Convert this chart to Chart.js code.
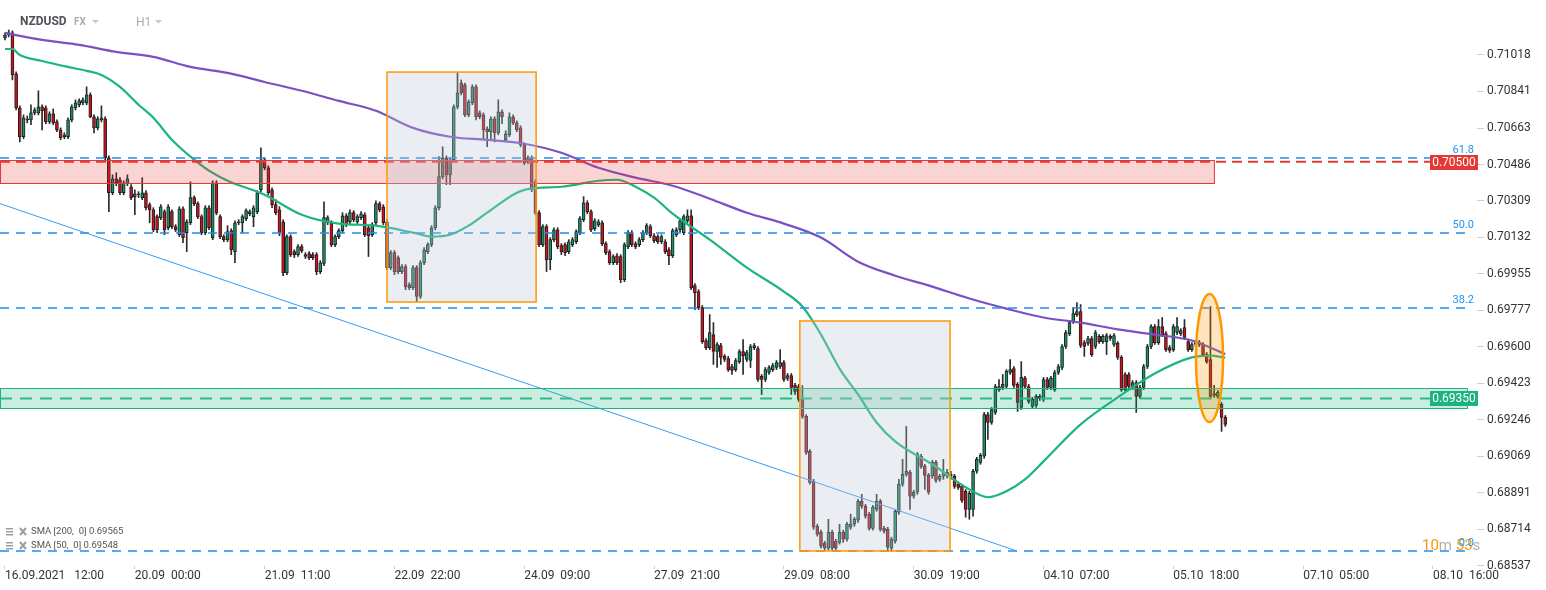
<!DOCTYPE html>
<html>
<head>
<meta charset="utf-8">
<script src="https://cdn.jsdelivr.net/npm/chart.js@4.4.0/dist/chart.umd.min.js"></script>
<style>
  html, body { margin: 0; padding: 0; background: #fff; }
  canvas { display: block; }
</style>
</head>
<body>
<canvas id="chart" width="1546" height="590"></canvas>
<script>
// NZDUSD H1 candles, prices in 1e-5 units (71101 = 0.71101)
const opens = [
  71101,71115,71125,70926,70761,70621,70708,70703,70737,70737,
  70766,70761,70693,70732,70693,70654,70621,70621,70703,70761,
  70776,70785,70785,70824,70718,70664,70703,70708,70519,70349,
  70417,70412,70349,70393,70378,70330,70339,70325,70349,70291,
  70266,70233,70228,70257,70179,70257,70184,70145,70271,70155,
  70203,70325,70296,70233,70155,70276,70131,70397,70233,70136,
  70121,70165,70063,70203,70203,70223,70247,70233,70257,70363,
  70509,70470,70363,70291,70266,70208,69961,70136,70063,70048,
  70087,70048,70053,70048,70048,69966,70005,70203,70203,70097,
  70136,70165,70237,70208,70252,70208,70228,70242,70179,70145,
  70203,70296,70281,70208,69985,70058,70034,69966,69990,69903,
  69888,69985,69845,70009,70063,70097,70179,70276,70427,70519,
  70436,70509,70766,70882,70873,70727,70785,70863,70737,70727,
  70659,70645,70708,70640,70742,70606,70630,70718,70688,70664,
  70582,70519,70519,70402,70252,70097,70184,70024,70121,70169,
  70092,70097,70063,70097,70111,70155,70218,70300,70257,70174,
  70194,70203,70102,70063,70009,70043,70039,69927,70087,70155,
  70102,70097,70121,70155,70184,70140,70136,70111,70111,70072,
  70043,70145,70169,70155,70213,70237,69898,69869,69791,69631,
  69597,69660,69578,69607,69554,69544,69505,69490,69529,69578,
  69539,69534,69597,69592,69457,69442,69476,69490,69500,69505,
  69524,69447,69461,69413,69408,69345,69263,69093,68947,68729,
  68700,68647,68622,68700,68656,68651,68700,68666,68724,68739,
  68758,68850,68826,68787,68719,68811,68850,68719,68714,68622,
  68656,68797,68933,68981,68991,68875,68894,69069,69020,68976,
  68972,69039,68957,68972,68972,68972,68972,68933,68923,68899,
  68811,68811,68996,69039,69069,69272,69233,69282,69393,69403,
  69408,69476,69495,69418,69306,69447,69408,69311,69316,69350,
  69345,69442,69403,69393,69476,69500,69602,69665,69723,69757,
  69772,69621,69617,69641,69602,69651,69626,69626,69651,69612,
  69617,69549,69466,69466,69403,69427,69360,69403,69505,69602,
  69699,69621,69699,69665,69597,69587,69670,69665,69694,69626,
  69587,69621,69612,69612,69563,69539,69374,69360,69321,69258
];
const highs = [
  71125,71139,71135,70936,70771,70727,70722,70776,70761,70844,
  70776,70771,70742,70756,70703,70664,70640,70713,70776,70800,
  70805,70810,70863,70834,70727,70718,70771,70718,70528,70436,
  70446,70422,70407,70436,70388,70363,70354,70422,70359,70300,
  70276,70242,70291,70266,70291,70266,70194,70281,70281,70218,
  70402,70334,70305,70242,70286,70286,70407,70407,70242,70145,
  70189,70174,70213,70218,70242,70271,70266,70286,70359,70567,
  70519,70480,70373,70315,70281,70218,70145,70145,70072,70097,
  70097,70058,70063,70058,70058,70019,70305,70237,70213,70145,
  70174,70252,70247,70266,70262,70242,70257,70252,70189,70203,
  70310,70305,70291,70218,70068,70068,70043,70000,70000,69912,
  69995,69995,70019,70082,70106,70189,70286,70524,70572,70528,
  70519,70776,70931,70897,70882,70800,70873,70873,70747,70737,
  70669,70718,70718,70800,70751,70650,70737,70727,70698,70674,
  70591,70528,70528,70412,70262,70194,70194,70131,70179,70179,
  70102,70106,70121,70131,70169,70233,70330,70310,70266,70223,
  70218,70213,70111,70072,70048,70053,70048,70106,70165,70165,
  70111,70131,70165,70199,70194,70150,70145,70145,70121,70082,
  70174,70179,70223,70242,70266,70266,69908,69878,69801,69641,
  69757,69718,69621,69617,69563,69554,69515,69544,69587,69636,
  69583,69612,69617,69602,69466,69500,69510,69520,69534,69587,
  69534,69471,69471,69423,69418,69413,69272,69102,68957,68739,
  68710,68656,68763,68710,68666,68739,68710,68748,68787,68773,
  68860,68884,68836,68797,68831,68884,68860,68729,68724,68676,
  68811,68957,69054,69214,69001,68904,69088,69078,69030,68986,
  69049,69049,68981,69054,69005,68996,68981,68942,68933,68908,
  68899,69005,69064,69083,69282,69282,69306,69418,69442,69466,
  69490,69539,69505,69427,69529,69457,69418,69355,69369,69369,
  69452,69452,69457,69486,69515,69612,69680,69728,69791,69815,
  69806,69631,69651,69651,69680,69660,69660,69665,69660,69665,
  69626,69558,69476,69476,69437,69437,69413,69515,69612,69709,
  69709,69733,69743,69675,69607,69709,69743,69689,69733,69636,
  69621,69631,69631,69621,69573,69796,69413,69389,69330,69267
];
const lows = [
  71091,71106,70897,70751,70596,70611,70688,70679,70727,70727,
  70654,70684,70684,70679,70645,70606,70611,70611,70693,70751,
  70766,70776,70776,70713,70640,70654,70693,70509,70257,70339,
  70383,70339,70339,70383,70315,70242,70325,70315,70266,70203,
  70160,70155,70218,70145,70169,70174,70160,70136,70106,70063,
  70194,70286,70223,70145,70145,70169,70121,70242,70126,70111,
  70111,70048,70009,70194,70155,70213,70237,70184,70247,70354,
  70460,70339,70276,70242,70140,69946,69951,70039,70034,70039,
  70058,70029,70024,70024,69951,69956,69995,70194,70087,70087,
  70126,70155,70184,70199,70208,70199,70218,70136,70039,70136,
  70194,70257,70194,69975,69975,69951,69956,69956,69878,69878,
  69878,69820,69835,70000,70053,70087,70169,70266,70417,70388,
  70388,70499,70756,70824,70718,70718,70776,70703,70708,70606,
  70572,70606,70596,70630,70684,70596,70621,70679,70645,70572,
  70485,70490,70354,70242,70087,70087,69966,69975,70111,70077,
  70048,70043,70053,70087,70102,70145,70208,70247,70160,70165,
  70184,70092,70048,70000,70000,70000,69912,69917,70077,70087,
  70077,70087,70111,70145,70131,70106,70102,70102,70053,70000,
  70034,70136,70160,70145,70203,69878,69781,69781,69617,69587,
  69587,69515,69500,69515,69529,69481,69466,69481,69520,69466,
  69529,69500,69587,69432,69369,69432,69466,69481,69490,69495,
  69432,69437,69369,69369,69335,69253,69078,68933,68714,68681,
  68622,68613,68613,68613,68613,68642,68651,68656,68714,68729,
  68748,68816,68768,68710,68710,68802,68705,68695,68608,68608,
  68647,68787,68923,68972,68811,68865,68884,69010,68908,68884,
  68962,68942,68947,68957,68962,68957,68913,68908,68845,68773,
  68763,68778,68986,69030,69059,69151,69224,69272,69384,69393,
  69398,69466,69403,69287,69296,69398,69326,69301,69306,69340,
  69335,69393,69393,69384,69466,69490,69592,69655,69714,69748,
  69597,69554,69607,69554,69592,69617,69617,69563,69631,69602,
  69539,69384,69384,69398,69393,69282,69350,69393,69495,69592,
  69612,69612,69651,69578,69573,69578,69660,69655,69636,69578,
  69578,69602,69602,69554,69520,69350,69355,69350,69190,69214
];
const closes = [
  71115,71125,70921,70761,70621,70713,70703,70737,70751,70766,
  70747,70693,70732,70688,70654,70616,70630,70703,70766,70785,
  70795,70800,70824,70718,70664,70708,70713,70519,70349,70417,
  70397,70349,70397,70417,70325,70344,70344,70349,70276,70266,
  70169,70169,70281,70169,70281,70184,70169,70271,70131,70208,
  70325,70296,70233,70155,70276,70179,70397,70252,70136,70121,
  70160,70072,70203,70208,70233,70262,70257,70276,70349,70509,
  70470,70349,70291,70252,70155,69961,70136,70048,70048,70087,
  70068,70039,70034,70034,69966,70009,70228,70228,70097,70136,
  70165,70237,70194,70252,70218,70233,70247,70145,70140,70194,
  70296,70266,70203,69985,70058,69966,69966,69990,69893,69888,
  69985,69845,70009,70072,70097,70179,70276,70427,70519,70436,
  70509,70766,70834,70834,70727,70790,70863,70718,70718,70654,
  70645,70708,70640,70742,70718,70635,70718,70688,70654,70582,
  70494,70499,70363,70252,70097,70184,70024,70121,70169,70087,
  70063,70058,70111,70121,70160,70223,70300,70257,70169,70213,
  70208,70102,70058,70009,70039,70009,69927,70097,70155,70097,
  70087,70121,70155,70189,70140,70116,70111,70136,70063,70043,
  70165,70169,70213,70233,70237,69888,69864,69791,69626,69597,
  69670,69578,69612,69549,69539,69490,69486,69534,69578,69558,
  69573,69602,69607,69442,69442,69490,69500,69510,69524,69524,
  69442,69461,69403,69384,69345,69263,69088,68942,68724,68690,
  68632,68622,68700,68622,68622,68700,68666,68739,68739,68763,
  68850,68826,68778,68719,68821,68850,68714,68705,68627,68666,
  68802,68933,68981,68996,68875,68894,69078,69020,68976,68894,
  69039,68952,68972,68991,68991,68981,68923,68918,68855,68811,
  68889,68996,69054,69073,69272,69233,69296,69408,69408,69418,
  69481,69490,69413,69330,69452,69408,69335,69345,69360,69360,
  69442,69403,69447,69476,69505,69602,69670,69718,69762,69772,
  69607,69602,69641,69563,69670,69626,69651,69655,69641,69655,
  69549,69393,69393,69408,69427,69360,69403,69505,69602,69699,
  69621,69699,69660,69587,69583,69699,69699,69680,69646,69587,
  69612,69612,69621,69563,69529,69360,69364,69379,69258,69224
];

// moving averages (candle index -> value, 1e-5 units)
const sma200Idx = [0,10,20,30,40,50,60,70,80,90,100,110,120,130,140,150,160,170,180,190,200,210,220,230,240,250,260,270,280,290,300,310,320,329];
const sma200 = [71125,71091,71067,71033,71009,70960,70931,70887,70844,70795,70747,70664,70621,70606,70587,70543,70470,70422,70383,70320,70252,70199,70131,70014,69946,69893,69835,69786,69743,69718,69685,69660,69631,69565];
const sma50Idx = [0,2,4,10,17,22,26,31,36,40,45,50,55,60,70,80,90,100,110,115,120,125,130,140,150,160,165,170,175,180,190,200,210,215,220,225,230,235,240,250,260,265,270,275,280,290,300,310,320,325,329];
const sma50 = [71047,71047,71018,70989,70960,70941,70921,70863,70776,70713,70606,70524,70456,70407,70339,70242,70199,70189,70155,70136,70145,70189,70252,70363,70378,70407,70412,70378,70325,70247,70121,69985,69869,69796,69660,69495,69369,69233,69141,69030,68908,68870,68899,68957,69044,69224,69355,69471,69549,69558,69548];

// axis labels
const timeLabels = ["16.09.2021   12:00", "20.09  00:00", "21.09  11:00", "22.09  22:00", "24.09  09:00", "27.09  21:00", "29.09  08:00", "30.09  19:00", "04.10  07:00", "05.10  18:00", "07.10  05:00", "08.10  16:00"];
const timeLabelIdx = [0, 35, 70, 105, 140, 175, 210, 245, 280, 315, 350, 385];
const priceTicks = [0.68537, 0.68714, 0.68891, 0.69069, 0.69246, 0.69423, 0.69600, 0.69777, 0.69955, 0.70132, 0.70309, 0.70486, 0.70663, 0.70841, 0.71018];

// drawn studies
const fibLow = 0.68609, fibHigh = 0.71697;
const fibLevels = [0, 38.2, 50.0, 61.8];
const resistance = { level: 0.70500, top: 0.70508, bottom: 0.70396, end: 326.2 };
const support = { level: 0.69350, top: 0.69400, bottom: 0.69303, end: 394.4 };
const trend = [[-1.35, 0.70296], [272.8, 0.68609]];
const boxes = [[103.0, 143.2, 0.70935, 0.69818], [214.3, 254.8, 0.69726, 0.68609]];
const ellipse = [321.1, 328.4, 0.69857, 0.69235];

const X_MIN = -1.348, X_MAX = 396.87;
const Y_MIN = 0.68536, Y_MAX = 0.71285;

const UP = "#14936a", DOWN = "#d0101c";
const idx = opens.map((_, i) => i);
const isUp = idx.map(i => closes[i] >= opens[i]);

const wickData = idx.map(i => ({ x: i, y: [lows[i] / 1e5, highs[i] / 1e5] }));
const bodyData = idx.map(i => ({ x: i, y: [opens[i] / 1e5, closes[i] / 1e5] }));

const overlay = {
  id: "overlay",
  afterDatasetsDraw(chart) {
    const { ctx, chartArea: a, scales: { x, y } } = chart;
    const px = v => x.getPixelForValue(v);
    const py = v => y.getPixelForValue(v);
    ctx.save();
    ctx.beginPath();
    ctx.rect(a.left, a.top, a.width, a.height);
    ctx.clip();

    // trend line
    ctx.strokeStyle = "#3a9cf0";
    ctx.lineWidth = 1;
    ctx.beginPath();
    ctx.moveTo(px(trend[0][0]), py(trend[0][1]));
    ctx.lineTo(px(trend[1][0]), py(trend[1][1]));
    ctx.stroke();

    // zones
    const zone = (z, fill, line) => {
      const l = px(X_MIN), r = px(z.end), t = py(z.top), b = py(z.bottom);
      ctx.fillStyle = fill;
      ctx.fillRect(l, t, r - l, b - t);
      ctx.strokeStyle = line;
      ctx.lineWidth = 1;
      ctx.strokeRect(l + 0.5, Math.round(t) + 0.5, r - l - 1, Math.round(b - t));
    };
    zone(resistance, "rgba(229,57,53,0.22)", "#e53935");
    zone(support, "rgba(29,179,125,0.24)", "#1db37d");

    // fibonacci levels
    fibLevels.forEach(f => {
      const yy = Math.round(py(fibLow + (fibHigh - fibLow) * f / 100));
      ctx.setLineDash([9, 7]);
      ctx.strokeStyle = "#1f8ff0";
      ctx.lineWidth = 1.4;
      ctx.beginPath();
      ctx.moveTo(0, yy);
      ctx.lineTo(px(395), yy);
      ctx.stroke();
    });

    // horizontal levels
    ctx.lineWidth = 2;
    ctx.setLineDash([10, 6]);
    ctx.strokeStyle = "#e53935";
    ctx.beginPath();
    ctx.moveTo(0, py(resistance.level));
    ctx.lineTo(px(384.2), py(resistance.level));
    ctx.stroke();
    ctx.setLineDash([12, 8]);
    ctx.strokeStyle = "#2dba8a";
    ctx.beginPath();
    ctx.moveTo(0, py(support.level));
    ctx.lineTo(px(384.2), py(support.level));
    ctx.stroke();
    ctx.setLineDash([]);

    // highlighted boxes
    boxes.forEach(bx => {
      const l = px(bx[0]), r = px(bx[1]), t = py(bx[2]), b = py(bx[3]);
      ctx.fillStyle = "rgba(190,200,212,0.32)";
      ctx.fillRect(l, t, r - l, b - t);
      ctx.strokeStyle = "#ff9800";
      ctx.lineWidth = 1.5;
      ctx.strokeRect(l, t, r - l, b - t);
    });

    // ellipse on the last spike
    const ex = (px(ellipse[0]) + px(ellipse[1])) / 2, ey = (py(ellipse[2]) + py(ellipse[3])) / 2;
    const rx = (px(ellipse[1]) - px(ellipse[0])) / 2, ry = (py(ellipse[3]) - py(ellipse[2])) / 2;
    ctx.beginPath();
    ctx.ellipse(ex, ey, rx, ry, 0, 0, Math.PI * 2);
    ctx.fillStyle = "rgba(255,152,0,0.26)";
    ctx.fill();
    ctx.strokeStyle = "#ff9800";
    ctx.lineWidth = 2.5;
    ctx.stroke();
    ctx.restore();
  },
  afterDraw(chart) {
    const { ctx, scales: { y } } = chart;
    const py = v => y.getPixelForValue(v);
    ctx.save();
    ctx.textBaseline = "middle";

    // countdown
    ctx.font = "15px Roboto";
    let cx = 1422;
    [["10", "#ff9800"], ["m ", "#b0b0b0"], ["53", "#ff9800"], ["s", "#b0b0b0"]].forEach(([t, c]) => {
      ctx.fillStyle = c;
      ctx.textAlign = "left";
      ctx.fillText(t, cx, 546);
      cx += ctx.measureText(t).width;
    });

    // fib labels
    ctx.font = "11px Roboto";
    ctx.fillStyle = "#2196f3";
    ctx.textAlign = "right";
    fibLevels.forEach(f => {
      const yy = py(fibLow + (fibHigh - fibLow) * f / 100);
      ctx.fillText(f.toFixed(1), 1474, yy - 8);
    });

    // price tags
    const tag = (v, bg) => {
      const yy = py(v);
      ctx.fillStyle = bg;
      ctx.fillRect(1430, Math.round(yy) - 7, 48, 15);
      ctx.fillStyle = "#fff";
      ctx.font = "12px Roboto";
      ctx.textAlign = "center";
      ctx.fillText(v.toFixed(5), 1454, Math.round(yy) + 0.5);
    };
    tag(resistance.level, "#e53935");
    tag(support.level, "#1db37d");

    // header
    ctx.textAlign = "left";
    ctx.font = "bold 12px Roboto";
    ctx.fillStyle = "#4d5258";
    ctx.fillText("NZDUSD", 20, 22);
    ctx.font = "bold 10px Roboto";
    ctx.fillStyle = "#a8acb0";
    ctx.fillText("FX", 74, 22);
    ctx.font = "12px Roboto";
    ctx.fillText("H1", 136, 23);
    ctx.fillStyle = "#c4c7ca";
    [[92, 20], [155, 20]].forEach(([tx, ty]) => {
      ctx.beginPath();
      ctx.moveTo(tx, ty);
      ctx.lineTo(tx + 7, ty);
      ctx.lineTo(tx + 3.5, ty + 3.5);
      ctx.closePath();
      ctx.fill();
    });

    // indicator legend
    [["SMA [200,  0] 0.69565", 532], ["SMA [50,  0] 0.69548", 546]].forEach(([t, ly]) => {
      ctx.fillStyle = "#9a9ea3";
      ctx.fillRect(6, ly - 4, 7, 1.5);
      ctx.fillRect(6, ly - 1, 7, 1.5);
      ctx.fillRect(6, ly + 2, 7, 1.5);
      ctx.strokeStyle = "#9a9ea3";
      ctx.lineWidth = 2;
      ctx.beginPath();
      ctx.moveTo(20, ly - 4); ctx.lineTo(26, ly + 3);
      ctx.moveTo(26, ly - 4); ctx.lineTo(20, ly + 3);
      ctx.stroke();
      ctx.font = "9.5px Roboto";
      ctx.fillStyle = "#555";
      ctx.fillText(t, 31, ly);
    });
    ctx.restore();
  }
};

const whiteBg = {
  id: "whiteBg",
  beforeDraw(chart) {
    const { ctx, width, height } = chart;
    ctx.save();
    ctx.fillStyle = "#fff";
    ctx.fillRect(0, 0, width, height);
    ctx.restore();
  }
};

Chart.defaults.font.family = "Roboto";

new Chart(document.getElementById("chart").getContext("2d"), {
  type: "bar",
  data: {
    datasets: [
      {
        type: "line",
        label: "SMA 200",
        data: sma200Idx.map((v, k) => ({ x: v, y: sma200[k] / 1e5 })),
        borderColor: "#7a50c4",
        borderWidth: 2.2,
        pointRadius: 0,
        cubicInterpolationMode: "monotone",
        order: 0
      },
      {
        type: "line",
        label: "SMA 50",
        data: sma50Idx.map((v, k) => ({ x: v, y: sma50[k] / 1e5 })),
        borderColor: "#1cb57e",
        borderWidth: 2.2,
        pointRadius: 0,
        cubicInterpolationMode: "monotone",
        order: 1
      },
      {
        label: "body",
        data: bodyData,
        backgroundColor: idx.map(i => (isUp[i] ? UP : DOWN)),
        borderColor: "#1e1e1e",
        borderWidth: 1,
        borderSkipped: false,
        barThickness: 3,
        minBarLength: 1,
        grouped: false,
        order: 2
      },
      {
        label: "wick",
        data: wickData,
        backgroundColor: "#2a2a2a",
        borderWidth: 0,
        barThickness: 1,
        grouped: false,
        order: 3
      }
    ]
  },
  options: {
    responsive: false,
    animation: false,
    devicePixelRatio: 1,
    layout: { padding: 0 },
    plugins: { legend: { display: false }, tooltip: { enabled: false } },
    scales: {
      x: {
        type: "linear",
        min: X_MIN,
        max: X_MAX,
        offset: false,
        grid: { drawOnChartArea: false, drawTicks: true, tickLength: 3, color: "#cfcfcf", offset: false },
        border: { display: false },
        ticks: {
          autoSkip: false,
          maxRotation: 0,
          align: "start",
          padding: 0,
          color: "#333",
          font: { size: 12 },
          callback: v => {
            const k = timeLabelIdx.indexOf(v);
            return k >= 0 ? timeLabels[k] : "";
          }
        },
        afterBuildTicks: s => { s.ticks = timeLabelIdx.map(v => ({ value: v })); },
        afterFit: s => { s.height = 24; s.paddingLeft = 0; s.paddingRight = 0; }
      },
      y: {
        position: "right",
        min: Y_MIN,
        max: Y_MAX,
        beginAtZero: false,
        grid: { drawOnChartArea: false, drawTicks: true, tickLength: 7, color: "#cfcfcf" },
        border: { display: false },
        ticks: { padding: 3, color: "#333", font: { size: 12 }, callback: v => Number(v).toFixed(5) },
        afterBuildTicks: s => { s.ticks = priceTicks.map(v => ({ value: v })); },
        afterFit: s => { s.width = 69; s.paddingTop = 0; s.paddingBottom = 0; }
      }
    }
  },
  plugins: [whiteBg, overlay]
});
</script>
</body>
</html>
